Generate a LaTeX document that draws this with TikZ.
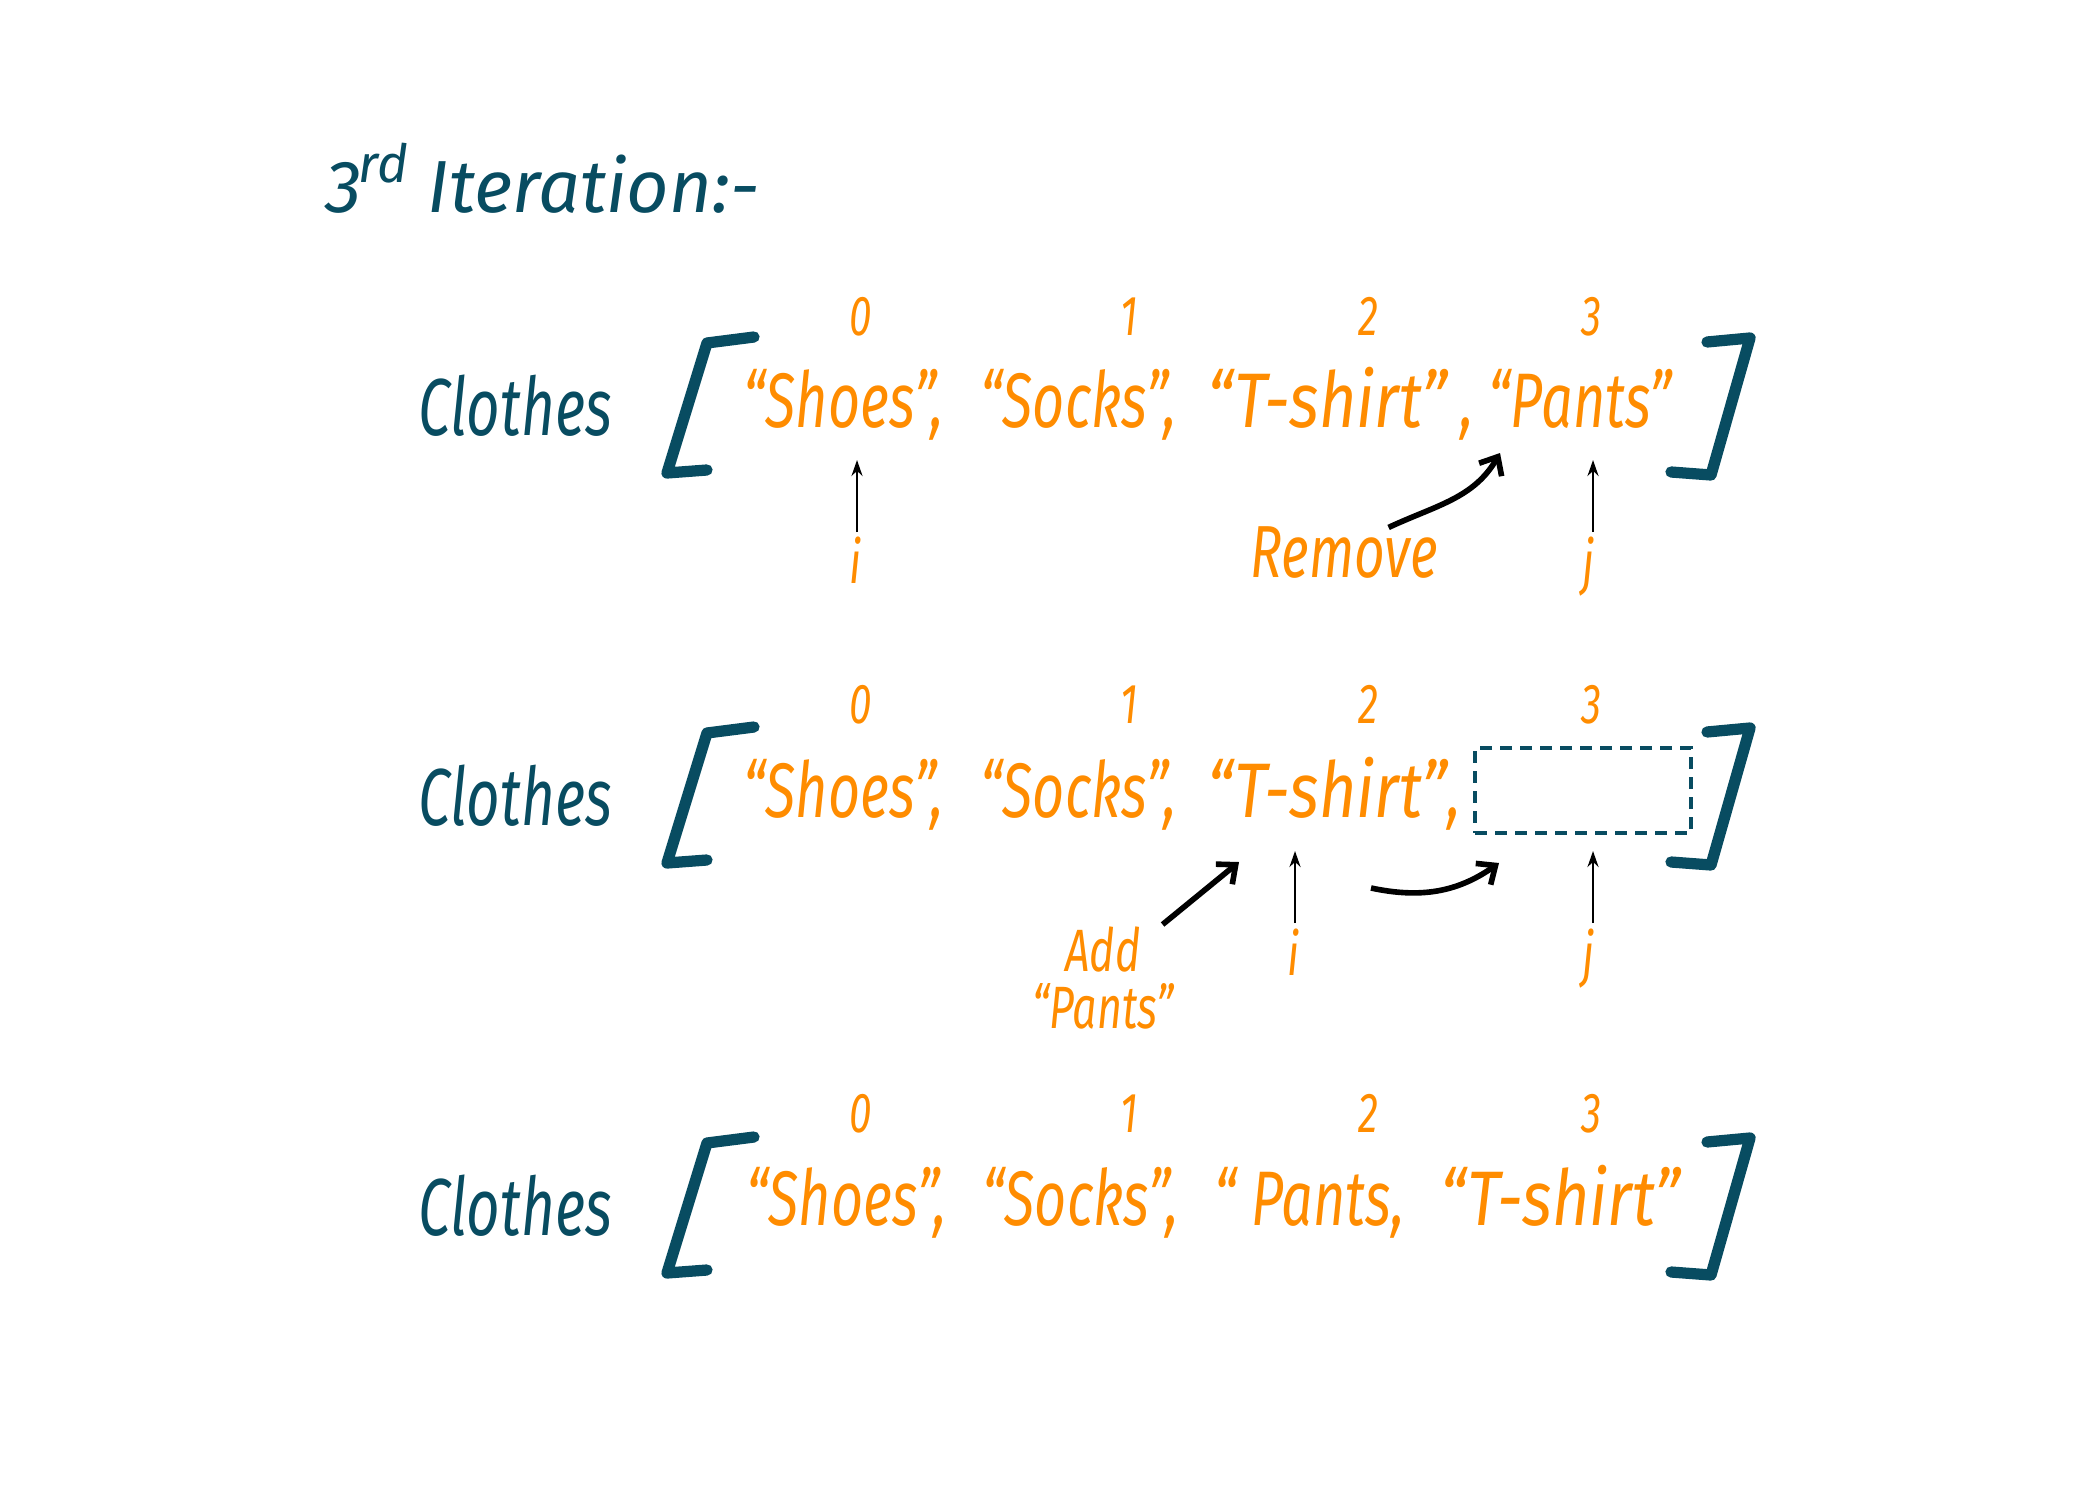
\documentclass[tikz,border=0pt]{standalone}
\usepackage{fontspec}
\usepackage{graphicx}
\setmainfont{Fira Sans}[FakeStretch=0.72]
\newfontfamily\titlefont{Fira Sans}
\newcommand\widen[1]{\scalebox{1.16}[1]{#1}}
\usetikzlibrary{arrows.meta,calc}
\definecolor{ink}{RGB}{8,76,97}
\definecolor{org}{RGB}{255,140,0}
\tikzset{
  word/.style={anchor=base west, inner sep=0pt, text=org, font=\fontsize{22}{26}\selectfont\itshape},
  lbl/.style={anchor=base west, inner sep=0pt, text=ink, font=\fontsize{23}{27}\selectfont\itshape},
  ttl/.style={anchor=base west, inner sep=0pt, text=ink, font=\titlefont\fontsize{21}{25}\selectfont\itshape},
  idx/.style={anchor=base, inner sep=0pt, text=org, font=\fontsize{16}{19}\selectfont\itshape},
  ptrlbl/.style={anchor=base, inner sep=0pt, text=org, font=\fontsize{17}{20}\selectfont\itshape},
  ptr/.style={draw=black, line width=0.8pt, -{Stealth[length=1.6mm, width=1.1mm]}},
  bigarrow/.style={draw=black, line width=1.6pt, -{Straight Barb[length=1.5mm, width=2.6mm]}},
  brk/.style={draw=ink, line width=3.2pt, line cap=round, line join=round},
  slotbox/.style={draw=ink, line width=0.9pt, dash pattern=on 1.2mm off 0.8mm, inner sep=0pt,
     minimum width=21.6mm, minimum height=8.5mm},
  lbr/.pic={\draw[brk] (94,2) -- (47,8) -- (7,138) -- (47,135);},
  rbr/.pic={\draw[brk] (47,7) -- (90,3) -- (51,140) -- (11,137);}
}
\begin{document}
\begin{tikzpicture}[x=0.1mm, y=-0.1mm]
\useasboundingbox (0,0) rectangle (2100,1500);

% title
\node[ttl] (t3) at (325,213) {3};
\node[ttl, font=\titlefont\fontsize{15}{18}\selectfont\itshape] (trd) at (358,183) {rd};
\node[ttl] (title) at (427,213) {Iteration:-};

% ---------- row 1 ----------
\node[lbl] (c1) at (418,435) {Clothes};
\pic at (660,335) {lbr};
\pic at (1660,335) {rbr};
\node[idx] (n1a) at (861,335) {0};
\node[idx] (n1b) at (1129,335) {1};
\node[idx] (n1c) at (1368,335) {2};
\node[idx] (n1d) at (1591,335) {3};
\node[word] (r1a) at (743,427) {“Shoes”,};
\node[word] (r1b) at (980,427) {“Socks”,};
\node[word] (r1c) at (1207,427) {\widen{“T-shirt”}\,,};
\node[word] (r1d) at (1488,427) {“Pants”};
\node[ptrlbl] (i1) at (855,583) {i};
\node[ptrlbl] (j1) at (1588,583) {j};
\coordinate (i1t) at (857,460);
\coordinate (j1t) at (1593,460);
\draw[ptr] (i1t |- 0,532) -- (i1t);
\draw[ptr] (j1t |- 0,532) -- (j1t);
\node[word, font=\fontsize{21}{25}\selectfont\itshape] (rem) at (1250,577) {Remove};
\coordinate (remT) at (1500,453);
\draw[bigarrow] ($(rem.north east)+(-50,2)$) to[out=25, in=-120] (remT);

% ---------- row 2 ----------
\node[lbl] (c2) at (418,825) {Clothes};
\pic at (660,725) {lbr};
\pic at (1660,725) {rbr};
\node[idx] (n2a) at (861,723) {0};
\node[idx] (n2b) at (1129,723) {1};
\node[idx] (n2c) at (1368,723) {2};
\node[idx] (n2d) at (1591,723) {3};
\node[word] (r2a) at (743,817) {“Shoes”,};
\node[word] (r2b) at (980,817) {“Socks”,};
\node[word] (r2c) at (1207,817) {\widen{“T-shirt”},};
\node[slotbox] (slot) at (1583,790.5) {};
\node[ptrlbl] (i2) at (1293,975) {i};
\node[ptrlbl] (j2) at (1588,975) {j};
\coordinate (i2t) at (1295,851);
\coordinate (j2t) at (1593,851);
\draw[ptr] (i2t |- 0,923) -- (i2t);
\draw[ptr] (j2t |- 0,923) -- (j2t);
\node[anchor=center, inner sep=0pt, text=org, align=center,
      font=\fontsize{17}{16}\selectfont\itshape] (add) at (1103,978) {Add\\“Pants”};
\coordinate (addT) at (1239,862);
\draw[bigarrow] ($(add.north east)+(-12,-2)$) -- (addT);
\coordinate (mvS) at (1371,888);
\coordinate (mvT) at (1499,863);
\draw[bigarrow] (mvS) to[out=-12, in=-145] (mvT);

% ---------- row 3 ----------
\node[lbl] (c3) at (418,1235) {Clothes};
\pic at (660,1135) {lbr};
\pic at (1660,1135) {rbr};
\node[idx] (n3a) at (861,1132) {0};
\node[idx] (n3b) at (1129,1132) {1};
\node[idx] (n3c) at (1368,1132) {2};
\node[idx] (n3d) at (1591,1132) {3};
\node[word] (r3a) at (746,1225) {“Shoes”,};
\node[word] (r3b) at (982,1225) {“Socks”,};
\node[word] (r3c) at (1214,1225) {“ Pants,};
\node[word] (r3d) at (1440,1225) {\widen{“T-shirt”}};
\end{tikzpicture}
\end{document}
